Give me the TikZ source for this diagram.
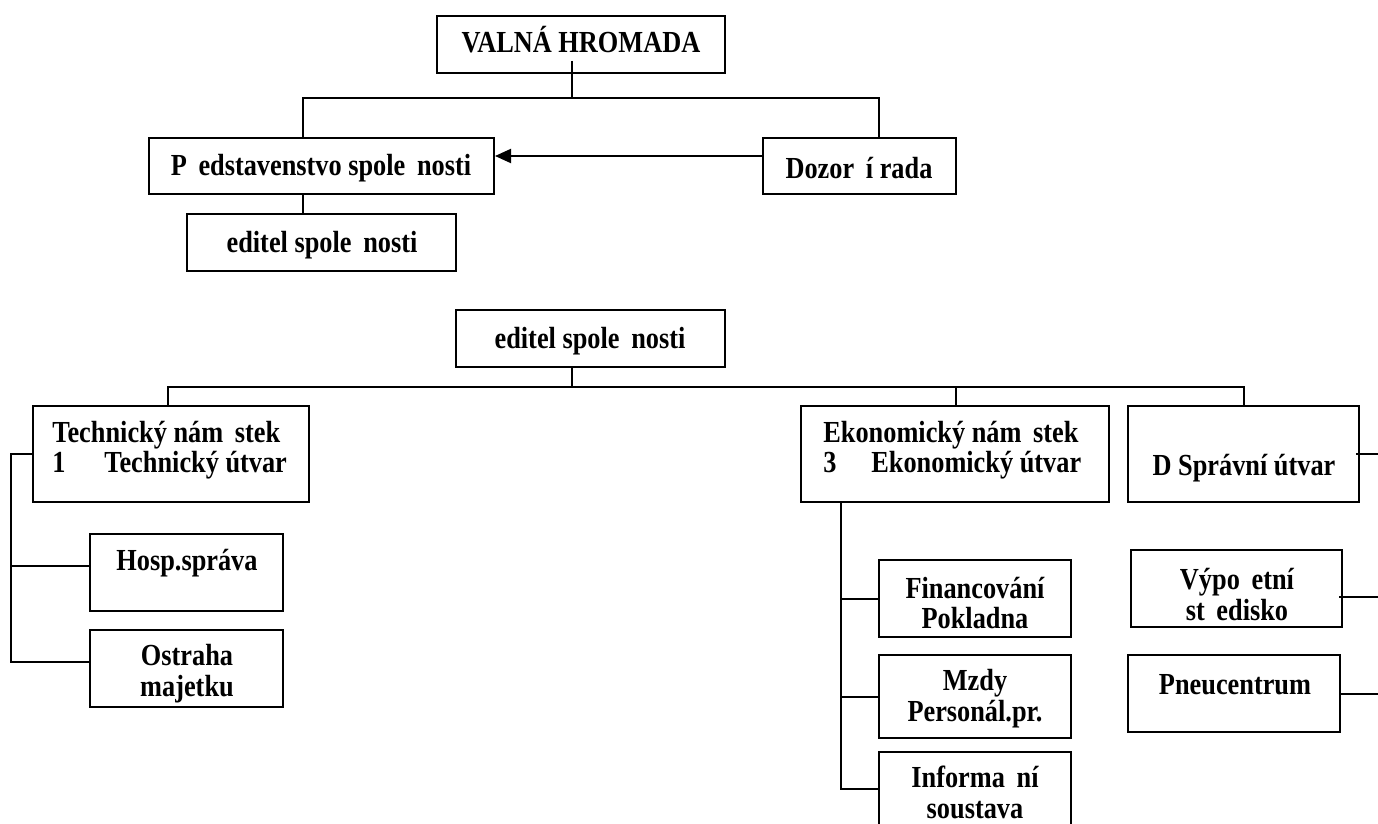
\documentclass[tikz,border=0pt]{standalone}
\usepackage{fontspec}
\setmainfont{Liberation Serif}[FakeStretch=0.86]
\usetikzlibrary{fit,arrows.meta}
\begin{document}
\begin{tikzpicture}[x=0.5pt,y=-0.5pt,
  box/.style={draw,line width=1pt,inner sep=0pt},
  txt/.style={font=\fontsize{15.3}{15.4}\selectfont\bfseries,inner sep=0pt,align=center},
  conn/.style={line width=1pt},
]
\useasboundingbox (0,0) rectangle (1378,824);
% boxes
\node[box,fit={(437,16)(725,73)}] (valna) {};
\node[box,fit={(149,138)(494,194)}] (pred) {};
\node[box,fit={(763,138)(956,194)}] (dozor) {};
\node[box,fit={(187,214)(456,271)}] (red1) {};
\node[box,fit={(456,310)(725,367)}] (red2) {};
\node[box,fit={(33,406)(309,502)}] (tech) {};
\node[box,fit={(801,406)(1109,502)}] (eko) {};
\node[box,fit={(1128,406)(1359,502)}] (dspr) {};
\node[box,fit={(90,534)(283,611)}] (hosp) {};
\node[box,fit={(90,630)(283,707)}] (ostr) {};
\node[box,fit={(879,560)(1071,637)}] (fin) {};
\node[box,fit={(879,655)(1071,738)}] (mzdy) {};
\node[box,fit={(879,752)(1071,840)}] (info) {};
\node[box,fit={(1131,550)(1342,627)}] (vyp) {};
\node[box,fit={(1128,655)(1340,732)}] (pneu) {};
% texts
\node[txt] (t1) at (581,40) {VALNÁ HROMADA};
\node[txt] (t2) at (321,168) {P\phantom{ř}edstavenstvo spole\phantom{č}nosti};
\node[txt] (t3) at (859,168) {Dozor\phantom{č}í rada};
\node[txt] (t4) at (322,245) {editel spole\phantom{č}nosti};
\node[txt] (t5) at (590,341) {editel spole\phantom{č}nosti};
\node[txt,anchor=west,align=left] (t6) at (52,450) {Technický nám\phantom{ě}stek\\\makebox[26pt][l]{1}Technický útvar};
\node[txt,anchor=west,align=left] (t7) at (823,450) {Ekonomický nám\phantom{ě}stek\\\makebox[24pt][l]{3}Ekonomický útvar};
\node[txt] (t8) at (1244,468) {D Správní útvar};
\node[txt] (t9) at (187,563) {Hosp.správa};
\node[txt] (t10) at (187,674) {Ostraha\\majetku};
\node[txt] (t11) at (975,603) {Financování\\Pokladna};
\node[txt] (t12) at (975,699) {Mzdy\\Personál.pr.};
\node[txt] (t13) at (975,792) {Informa\phantom{č}ní\\soustava};
\node[txt] (t14) at (1237,594) {Výpo\phantom{č}etní\\st\phantom{ř}edisko};
\node[txt] (t15) at (1235,685) {Pneucentrum};
% connectors, top part
\coordinate (vs) at (572,61);
\coordinate (j1) at (572,98);
\coordinate (j1l) at (303,98);
\coordinate (j1r) at (879,98);
\coordinate (ay) at (0,156);
\draw[conn] (vs) -- (j1);
\draw[conn] (pred.north -| j1l) -- (j1l) -- (j1r) -- (dozor.north -| j1r);
\draw[conn,-{Triangle[length=8pt,width=7pt]}] (dozor.west |- ay) -- (pred.east |- ay);
\draw[conn] (pred.south -| j1l) -- (red1.north -| j1l);
% connectors, second part
\coordinate (j2) at (572,387);
\coordinate (j2l) at (168,387);
\coordinate (j2m) at (956,387);
\coordinate (j2r) at (1244,387);
\draw[conn] (red2.south -| j2) -- (j2);
\draw[conn] (tech.north -| j2l) -- (j2l) -- (j2r) -- (dspr.north -| j2r);
\draw[conn] (j2m) -- (eko.north -| j2m);
% technical bracket
\coordinate (bl) at (11,0);
\coordinate (hy) at (0,566);
\coordinate (oy) at (0,662);
\draw[conn] (tech.west) -| (bl |- oy) -- (ostr.west |- oy);
\draw[conn] (bl |- hy) -- (hosp.west |- hy);
% economic bracket
\coordinate (ev) at (841,0);
\coordinate (iy) at (0,789);
\draw[conn] (eko.south -| ev) -- (ev |- iy) -- (info.west |- iy);
\draw[conn] (ev |- fin.west) -- (fin.west);
\draw[conn] (ev |- mzdy.west) -- (mzdy.west);
% right stubs
\coordinate (edge) at (1378,0);
\coordinate (vy) at (0,597);
\draw[conn] (dspr.east) ++(-2pt,0) -- (edge |- dspr.east);
\draw[conn] (vyp.east |- vy) ++(-2pt,0) -- (edge |- vy);
\draw[conn] (pneu.east) -- (edge |- pneu.east);
\end{tikzpicture}
\end{document}
